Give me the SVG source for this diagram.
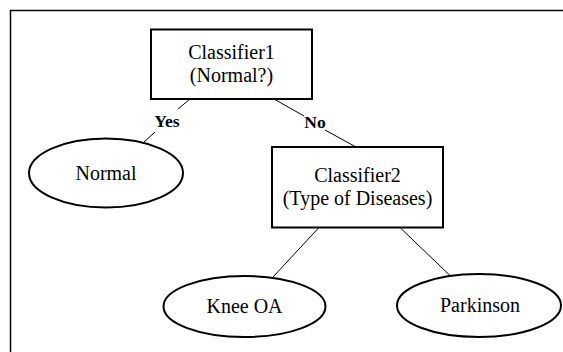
<svg xmlns="http://www.w3.org/2000/svg" width="563" height="352" viewBox="0 0 563 352">
<style>
.box{fill:#fff;stroke:#000;stroke-width:2}
.ell{fill:#fff;stroke:#000;stroke-width:2}
.t{font-family:"Liberation Serif","Times New Roman",serif;font-size:20px;fill:#000;text-anchor:middle}
.lbl{font-family:"Liberation Serif","Times New Roman",serif;font-size:17.5px;font-weight:bold;fill:#000;text-anchor:middle}
.c{stroke:#000;stroke-width:1;fill:none}
</style>
<rect width="563" height="352" fill="#fff"/>
<path d="M10.5,352 V10.5 H563" fill="none" stroke="#000" stroke-width="1.5"/>
<g id="connectors">
<line class="c" x1="190" y1="99" x2="178" y2="109"/>
<line class="c" x1="155" y1="132" x2="143" y2="143"/>
<line class="c" x1="274" y1="99" x2="304" y2="116"/>
<line class="c" x1="325" y1="130" x2="356" y2="147"/>
<line class="c" x1="318.5" y1="228" x2="273" y2="277"/>
<line class="c" x1="400.5" y1="228" x2="450" y2="275.5"/>
<text class="lbl" x="167" y="126.5">Yes</text>
<text class="lbl" x="315" y="128">No</text>
</g>
<g id="classifier1">
<rect class="box" x="151" y="29.5" width="161" height="69.5"/>
<text class="t" x="231.5" y="58.5">Classifier1</text>
<text class="t" x="231.5" y="81.5">(Normal?)</text>
</g>
<g id="normal">
<ellipse class="ell" cx="106" cy="173" rx="77" ry="34.5"/>
<text class="t" x="106" y="179.5">Normal</text>
</g>
<g id="classifier2">
<rect class="box" x="272" y="147" width="171" height="80.5"/>
<text class="t" x="357.5" y="181.5">Classifier2</text>
<text class="t" x="357.5" y="205">(Type of Diseases)</text>
</g>
<g id="kneeoa">
<ellipse class="ell" cx="244.5" cy="306.5" rx="81" ry="30.5"/>
<text class="t" x="244.5" y="312.5">Knee OA</text>
</g>
<g id="parkinson">
<ellipse class="ell" cx="479" cy="305.5" rx="82" ry="31.5"/>
<text class="t" x="480" y="311.5">Parkinson</text>
</g>
</svg>
